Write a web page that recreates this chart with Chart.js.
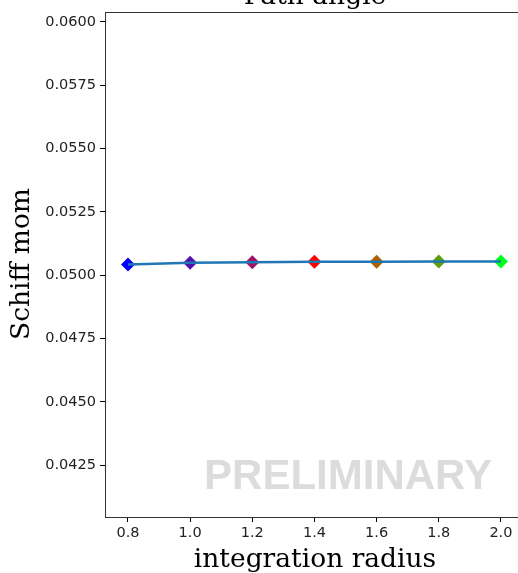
<!DOCTYPE html>
<html>
<head>
<meta charset="utf-8">
<script src="https://cdn.jsdelivr.net/npm/chart.js@4.4.1/dist/chart.umd.min.js"></script>
<style>
  html, body { margin: 0; padding: 0; background: #fff; overflow: hidden; }
  #wrap { width: 518px; height: 573px; position: relative; }
</style>
</head>
<body>
<div id="wrap"><canvas id="chart"></canvas></div>
<script>
// integration radius vs Schiff moment
const radii = [0.8, 1.0, 1.2, 1.4, 1.6, 1.8, 2.0];
const schiff = [0.05042, 0.05049, 0.05051, 0.05053, 0.05053, 0.05054, 0.05054];
const markerColors = ['#0000ff', '#5510b0', '#a0106a', '#ff0000', '#b06000', '#5aa010', '#00ff20'];
const xTicks = [0.8, 1.0, 1.2, 1.4, 1.6, 1.8, 2.0];
const yTicks = [0.0425, 0.0450, 0.0475, 0.0500, 0.0525, 0.0550, 0.0575, 0.0600];

const points = radii.map((r, i) => ({ x: r, y: schiff[i] }));

// frame, titles and watermark
const decor = {
  id: 'decor',
  afterDraw(chart) {
    const { ctx, chartArea: a } = chart;
    ctx.save();
    ctx.strokeStyle = '#333';
    ctx.lineWidth = 1;
    ctx.strokeRect(a.left + 0.5, a.top + 0.5, a.right - a.left, a.bottom - a.top);

    ctx.fillStyle = '#000';
    ctx.font = '26.5px "DejaVu Serif"';
    ctx.textAlign = 'center';
    ctx.textBaseline = 'alphabetic';
    ctx.fillText('Path angle', 315, 4);
    ctx.fillText('integration radius', 315, 567);

    ctx.translate(29, 264);
    ctx.rotate(-Math.PI / 2);
    ctx.fillText('Schiff mom', 0, 0);
    ctx.restore();

    ctx.save();
    ctx.fillStyle = '#dcdcdc';
    ctx.font = 'bold 42px "Liberation Sans"';
    ctx.textAlign = 'center';
    ctx.textBaseline = 'alphabetic';
    ctx.fillText('PRELIMINARY', 348, 489);
    ctx.restore();
  }
};

new Chart(document.getElementById('chart'), {
  type: 'line',
  data: {
    datasets: [
      {
        data: points,
        borderColor: '#1f77b4',
        borderWidth: 2.4,
        pointRadius: 0,
        tension: 0,
        order: 0
      },
      {
        data: points,
        showLine: false,
        pointStyle: 'rectRot',
        pointRadius: 7,
        pointBackgroundColor: markerColors,
        pointBorderColor: markerColors,
        pointBorderWidth: 0,
        order: 1
      }
    ]
  },
  options: {
    responsive: true,
    maintainAspectRatio: false,
    animation: false,
    layout: { autoPadding: false, padding: { top: 12, right: 0, left: 0, bottom: 0 } },
    plugins: { legend: { display: false }, tooltip: { enabled: false } },
    scales: {
      x: {
        type: 'linear',
        min: 0.726,
        max: 2.055,
        afterBuildTicks: s => { s.ticks = xTicks.map(v => ({ value: v })); },
        afterFit: s => { s.height = 56; s.paddingLeft = 0; s.paddingRight = 0; },
        grid: { drawOnChartArea: false, drawTicks: true, tickLength: 5, tickColor: '#000' },
        border: { display: true, color: '#333' },
        ticks: {
          color: '#222',
          padding: 3,
          maxRotation: 0,
          font: { family: 'DejaVu Sans', size: 14.5 },
          callback: v => v.toFixed(1)
        }
      },
      y: {
        min: 0.04045,
        max: 0.06039,
        afterBuildTicks: s => { s.ticks = yTicks.map(v => ({ value: v })); },
        afterFit: s => { s.width = 105; s.paddingTop = 0; s.paddingBottom = 0; },
        grid: { drawOnChartArea: false, drawTicks: true, tickLength: 5, tickColor: '#000' },
        border: { display: true, color: '#333' },
        ticks: {
          color: '#222',
          padding: 4,
          font: { family: 'DejaVu Sans', size: 14.5 },
          callback: v => v.toFixed(4)
        }
      }
    }
  },
  plugins: [decor]
});
</script>
</body>
</html>
